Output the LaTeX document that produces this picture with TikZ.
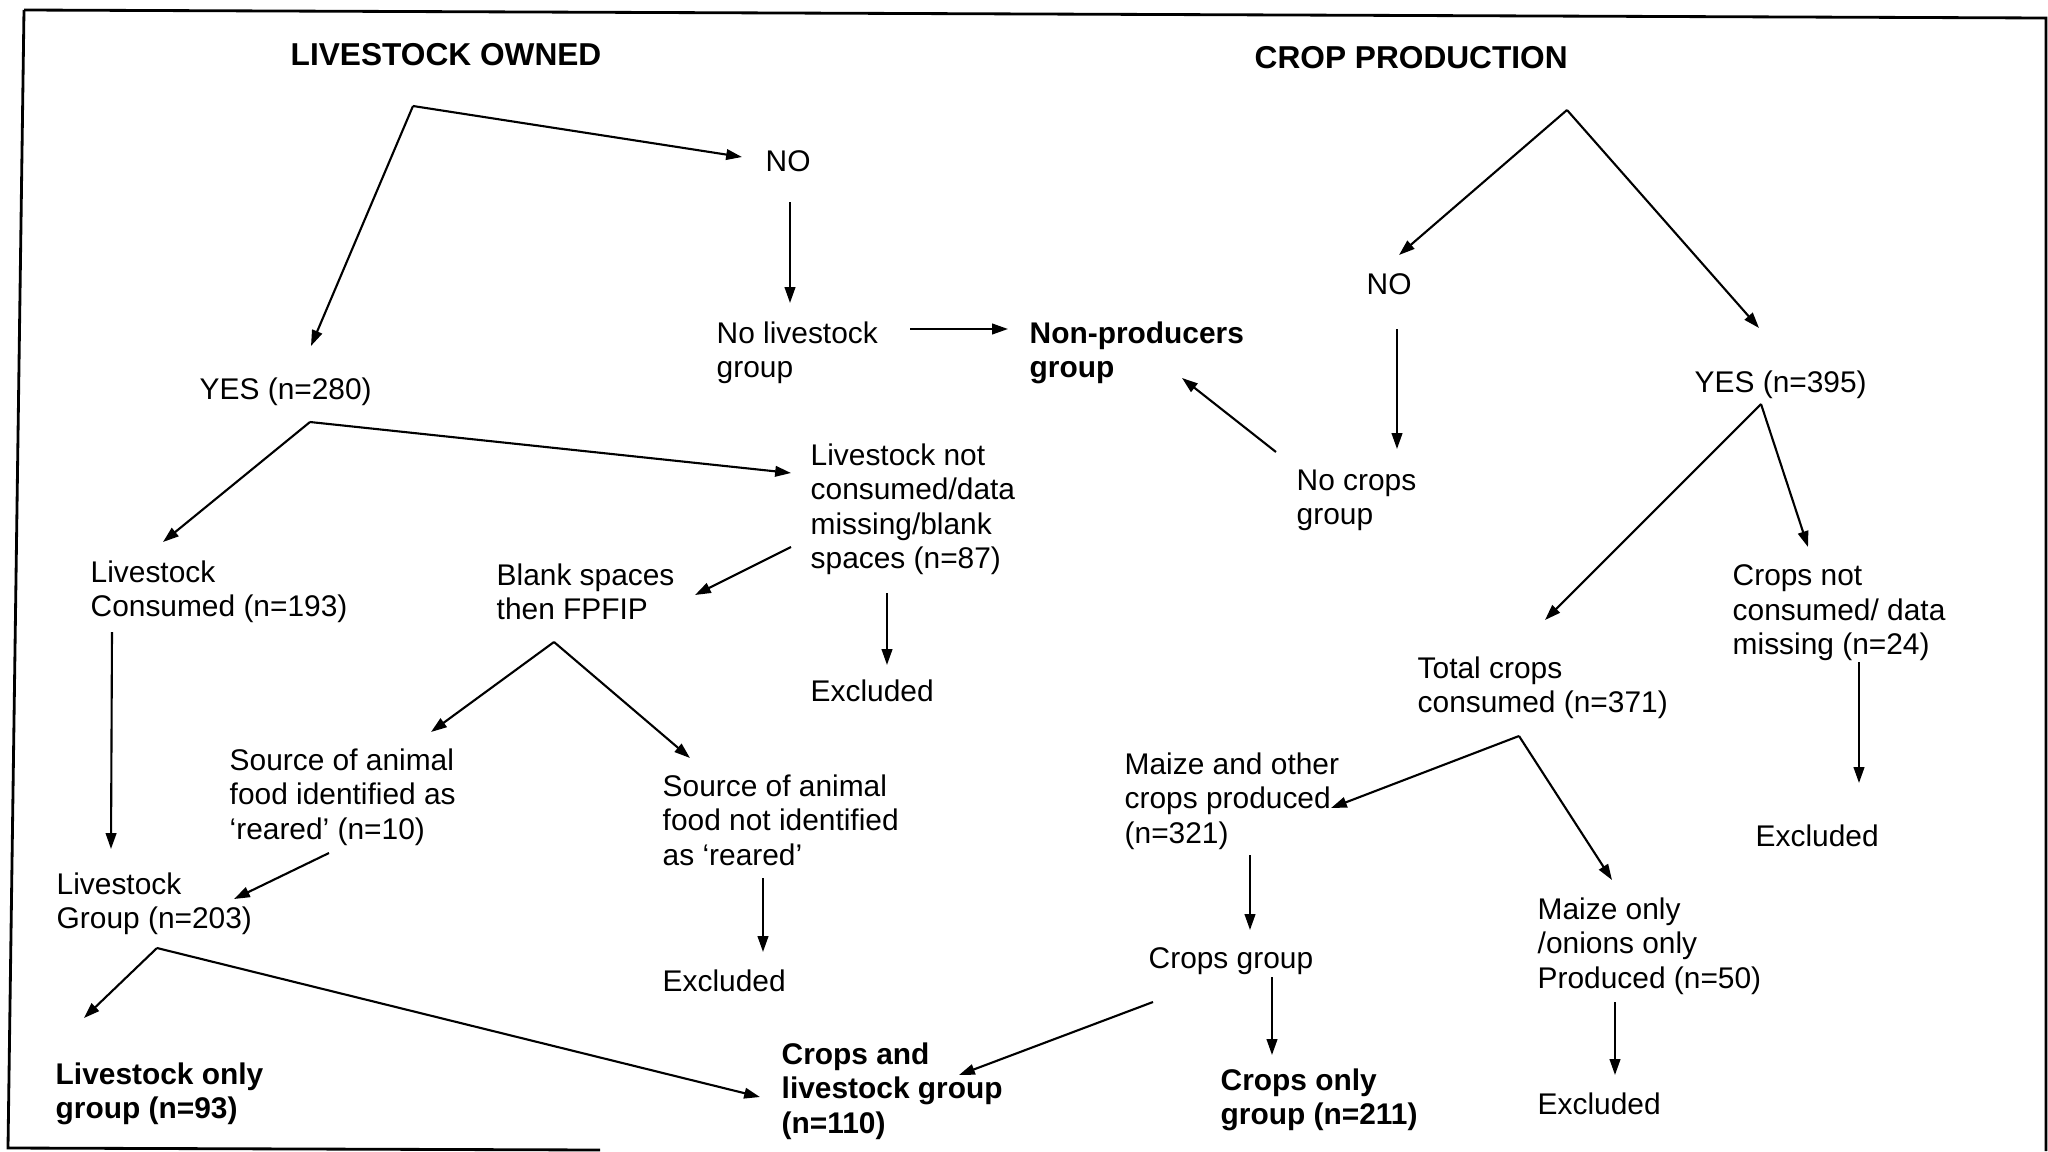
\documentclass[tikz,border=0pt]{standalone}
\usepackage{fontspec}
\setmainfont{Liberation Sans}
\usepackage{tikz}
\usetikzlibrary{arrows.meta,calc}

\begin{document}
\begin{tikzpicture}[
    x=0.01cm, y=-0.01cm,
    lbl/.style={
      anchor=north west,
      inner sep=0pt,
      align=left,
      font=\fontsize{8.5}{9.8}\selectfont
    },
    grp/.style={
      lbl,
      font=\fontsize{8.5}{9.8}\selectfont\bfseries
    },
    ttl/.style={
      lbl,
      font=\fontsize{9}{10.5}\selectfont\bfseries
    },
    arr/.style={
      -{Triangle[length=4.5pt,width=3pt]},
      line width=0.6pt
    }
  ]
  \useasboundingbox (0,0) rectangle (2048,1151);

  % scanned frame
  \draw[line width=0.8pt] (24,10) -- (2046,18) -- (2046,1151);
  \draw[line width=0.8pt] (24,10) -- (8,1148) -- (600,1150);

  % Titles
  \node[ttl] (titleL) at (290,43)  {LIVESTOCK OWNED};
  \node[ttl] (titleR) at (1254,46) {CROP PRODUCTION};

  % Livestock side
  \node[lbl] (noL)       at (765,150) {NO};
  \node[lbl] (noLive)    at (716,321) {No livestock\\group};
  \node[grp] (nonProd)   at (1029,321) {Non-producers\\group};
  \node[lbl] (yesL)      at (199,377) {YES (n=280)};
  \node[lbl] (liveNot)   at (810,443) {Livestock not\\consumed/data\\missing/blank\\spaces (n=87)};
  \node[lbl] (liveCons)  at (90,560)  {Livestock\\Consumed (n=193)};
  \node[lbl] (blank)     at (496,563) {Blank spaces\\then FPFIP};
  \node[lbl] (exclA)     at (810,679) {Excluded};
  \node[lbl] (srcYes)    at (229,748) {Source of animal\\food identified as\\‘reared’ (n=10)};
  \node[lbl] (srcNo)     at (662,774) {Source of animal\\food not identified\\as ‘reared’};
  \node[lbl] (liveGroup) at (56,872)  {Livestock\\Group (n=203)};
  \node[lbl] (exclB)     at (662,969) {Excluded};
  \node[grp] (liveOnly)  at (55,1062) {Livestock only\\group (n=93)};
  \node[grp] (cropsLive) at (781,1042) {Crops and\\livestock group\\(n=110)};

  % Crop side
  \node[lbl] (noR)        at (1366,273) {NO};
  \node[lbl] (yesR)       at (1694,370) {YES (n=395)};
  \node[lbl] (noCrops)    at (1296,469) {No crops\\group};
  \node[lbl] (cropsNot)   at (1732,564) {Crops not\\consumed/ data\\missing (n=24)};
  \node[lbl] (totalCrops) at (1417,656) {Total crops\\consumed (n=371)};
  \node[lbl] (maizeOther) at (1124,752) {Maize and other\\crops produced\\(n=321)};
  \node[lbl] (exclD)      at (1755,824) {Excluded};
  \node[lbl] (maizeOnly)  at (1537,897) {Maize only\\/onions only\\Produced (n=50)};
  \node[lbl] (cropsGroup) at (1148,947) {Crops group};
  \node[grp] (cropsOnly)  at (1220,1068) {Crops only\\group (n=211)};
  \node[lbl] (exclC)      at (1537,1092) {Excluded};

  % Arrows, livestock side
  \coordinate (lfork) at ([shift={(123,63)}]titleL.north west);
  \draw[arr] (lfork) -- ([shift={(112,-31)}]yesL.north west);
  \draw[arr] (lfork) -- ([shift={(-23,7)}]noL.north west);
  \draw[arr] ([shift={(25,52)}]noL.north west) -- ([shift={(74,-18)}]noLive.north west);
  \draw[arr] ([shift={(194,8)}]noLive.north west) -- ([shift={(-21,8)}]nonProd.north west);

  \coordinate (yfork) at ([shift={(111,45)}]yesL.north west);
  \draw[arr] (yfork) -- ([shift={(73,-18)}]liveCons.north west);
  \draw[arr] (yfork) -- ([shift={(-19,30)}]liveNot.north west);
  \draw[arr] ([shift={(-19,104)}]liveNot.north west) -- ([shift={(199,32)}]blank.north west);
  \draw[arr] ([shift={(77,150)}]liveNot.north west) -- ([shift={(77,-14)}]exclA.north west);
  \draw[arr] ([shift={(22,72)}]liveCons.north west) -- ([shift={(55,-23)}]liveGroup.north west);

  \coordinate (bfork) at ([shift={(58,79)}]blank.north west);
  \draw[arr] (bfork) -- ([shift={(202,-16)}]srcYes.north west);
  \draw[arr] (bfork) -- ([shift={(28,-16)}]srcNo.north west);
  \draw[arr] ([shift={(100,105)}]srcYes.north west) -- ([shift={(178,27)}]liveGroup.north west);
  \draw[arr] ([shift={(101,104)}]srcNo.north west) -- ([shift={(101,-17)}]exclB.north west);

  \coordinate (gfork) at ([shift={(101,76)}]liveGroup.north west);
  \draw[arr] (gfork) -- ([shift={(29,-44)}]liveOnly.north west);
  \draw[arr] (gfork) -- ([shift={(-21,55)}]cropsLive.north west);

  % Arrows, crop side
  \coordinate (rfork) at ([shift={(313,64)}]titleR.north west);
  \draw[arr] (rfork) -- ([shift={(33,-18)}]noR.north west);
  \draw[arr] (rfork) -- ([shift={(65,-42)}]yesR.north west);
  \draw[arr] ([shift={(31,56)}]noR.north west) -- ([shift={(101,-20)}]noCrops.north west);
  \draw[arr] ([shift={(-20,-17)}]noCrops.north west) -- ([shift={(153,57)}]nonProd.north west);

  \coordinate (cfork) at ([shift={(67,34)}]yesR.north west);
  \draw[arr] (cfork) -- ([shift={(128,-36)}]totalCrops.north west);
  \draw[arr] (cfork) -- ([shift={(76,-17)}]cropsNot.north west);
  \draw[arr] ([shift={(127,98)}]cropsNot.north west) -- ([shift={(104,-41)}]exclD.north west);

  \coordinate (tfork) at ([shift={(102,80)}]totalCrops.north west);
  \draw[arr] (tfork) -- ([shift={(207,56)}]maizeOther.north west);
  \draw[arr] (tfork) -- ([shift={(75,-17)}]maizeOnly.north west);
  \draw[arr] ([shift={(126,103)}]maizeOther.north west) -- ([shift={(102,-17)}]cropsGroup.north west);
  \draw[arr] ([shift={(124,30)}]cropsGroup.north west) -- ([shift={(52,-13)}]cropsOnly.north west);
  \draw[arr] ([shift={(5,55)}]cropsGroup.north west) -- ([shift={(178,33)}]cropsLive.north west);
  \draw[arr] ([shift={(78,105)}]maizeOnly.north west) -- ([shift={(78,-17)}]exclC.north west);

\end{tikzpicture}
\end{document}
